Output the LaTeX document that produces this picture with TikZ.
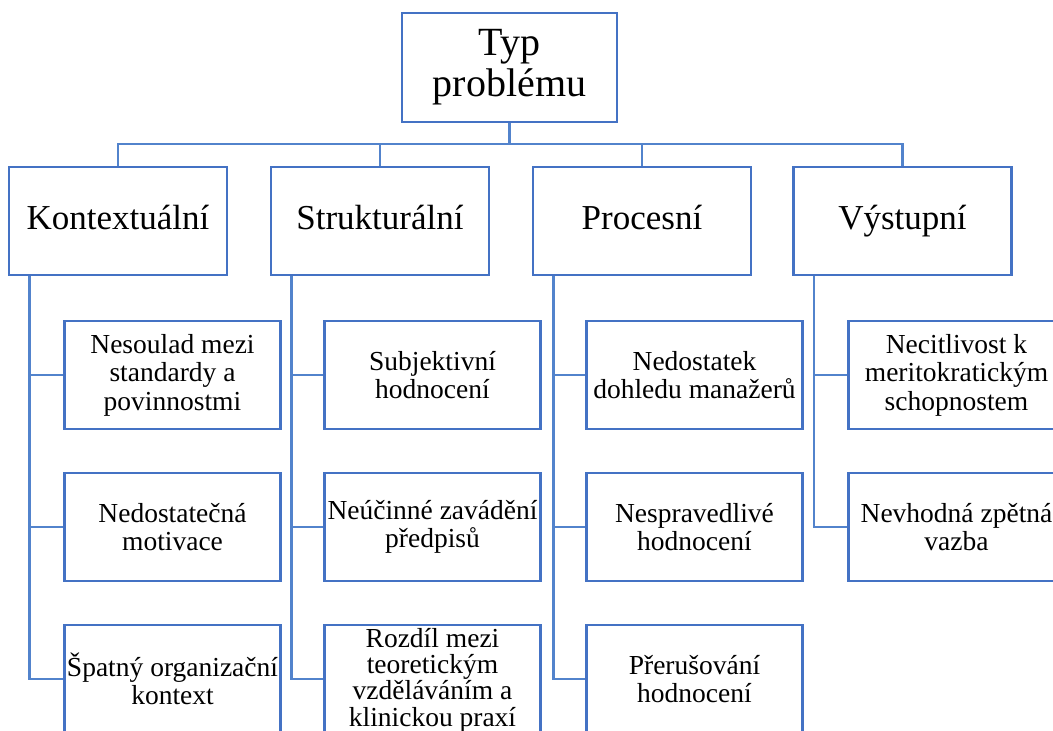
\documentclass[tikz,border=0pt]{standalone}
\usepackage{fontspec}
\setmainfont{Liberation Serif}
\definecolor{boxblue}{HTML}{4472C4}
\definecolor{lineblue}{HTML}{5283CC}
\tikzset{
  topbox/.style={draw=boxblue,line width=2.8pt,minimum width=215pt,minimum height=109pt,align=center,inner sep=0pt,font=\fontsize{40}{41}\selectfont},
  catbox/.style={draw=boxblue,line width=2.8pt,minimum width=218pt,minimum height=108pt,inner sep=0pt,text height=25pt,text depth=9pt,font=\fontsize{35}{38}\selectfont},
  itembox/.style={draw=boxblue,line width=2.8pt,minimum width=216pt,minimum height=108pt,align=center,inner sep=0pt,font=\fontsize{27.5}{28.5}\selectfont},
  link/.style={draw=lineblue,line width=2.5pt}
}
\begin{document}
\begin{tikzpicture}[x=1pt,y=-1pt]
   \useasboundingbox (0,0) rectangle (1053,731);
   \clip (0,0) rectangle (1053,731);
   % top
   \node[topbox] (typ) at (509.5,67.5) {Typ\\problému};
   \coordinate (bus) at (509.5,144);
   % categories
   \node[catbox] (kon) at (118,221) {Kontextuální};
   \node[catbox] (str) at (380,221) {Strukturální};
   \node[catbox] (pro) at (642,221) {Procesní};
   \node[catbox] (vys) at (902.5,221) {Výstupní};
   % items
   \node[itembox] (kon1) at (172.5,375) {Nesoulad mezi\\standardy a\\povinnostmi};
   \node[itembox] (kon2) at (172.5,527) {Nedostatečná\\motivace};
   \node[itembox] (kon3) at (172.5,679) {Špatný organizační\\kontext};
   \node[itembox] (str1) at (432.5,375) {Subjektivní\\hodnocení};
   \node[itembox] (str2) at (432.5,527) {Neúčinné zavádění\\předpisů};
   \node[itembox] (str3) at (432.5,679) {};
   \node[font=\fontsize{27.5}{26.3}\selectfont,align=center,inner sep=0pt,yshift=-1pt] (str3t) at (str3) {Rozdíl mezi\\teoretickým\\vzděláváním a\\klinickou praxí};
   \node[itembox] (pro1) at (694.5,375) {Nedostatek\\dohledu manažerů};
   \node[itembox] (pro2) at (694.5,527) {Nespravedlivé\\hodnocení};
   \node[itembox] (pro3) at (694.5,679) {Přerušování\\hodnocení};
   \node[itembox] (vys1) at (956.5,375) {Necitlivost k\\meritokratickým\\schopnostem};
   \node[itembox] (vys2) at (956.5,527) {Nevhodná zpětná\\vazba};
   % connectors
   \draw[link] (typ.south) -- (bus) -| (kon.north);
   \draw[link] (bus) -| (str.north);
   \draw[link] (bus) -| (pro.north);
   \draw[link] (bus) -| (vys.north);
   \draw[link] ([xshift=22pt]kon.south west) |- (kon1.west);
   \draw[link] ([xshift=22pt]kon.south west) |- (kon2.west);
   \draw[link] ([xshift=22pt]kon.south west) |- (kon3.west);
   \draw[link] ([xshift=22pt]str.south west) |- (str1.west);
   \draw[link] ([xshift=22pt]str.south west) |- (str2.west);
   \draw[link] ([xshift=22pt]str.south west) |- (str3.west);
   \draw[link] ([xshift=22pt]pro.south west) |- (pro1.west);
   \draw[link] ([xshift=22pt]pro.south west) |- (pro2.west);
   \draw[link] ([xshift=22pt]pro.south west) |- (pro3.west);
   \draw[link] ([xshift=22pt]vys.south west) |- (vys1.west);
   \draw[link] ([xshift=22pt]vys.south west) |- (vys2.west);
\end{tikzpicture}
\end{document}
